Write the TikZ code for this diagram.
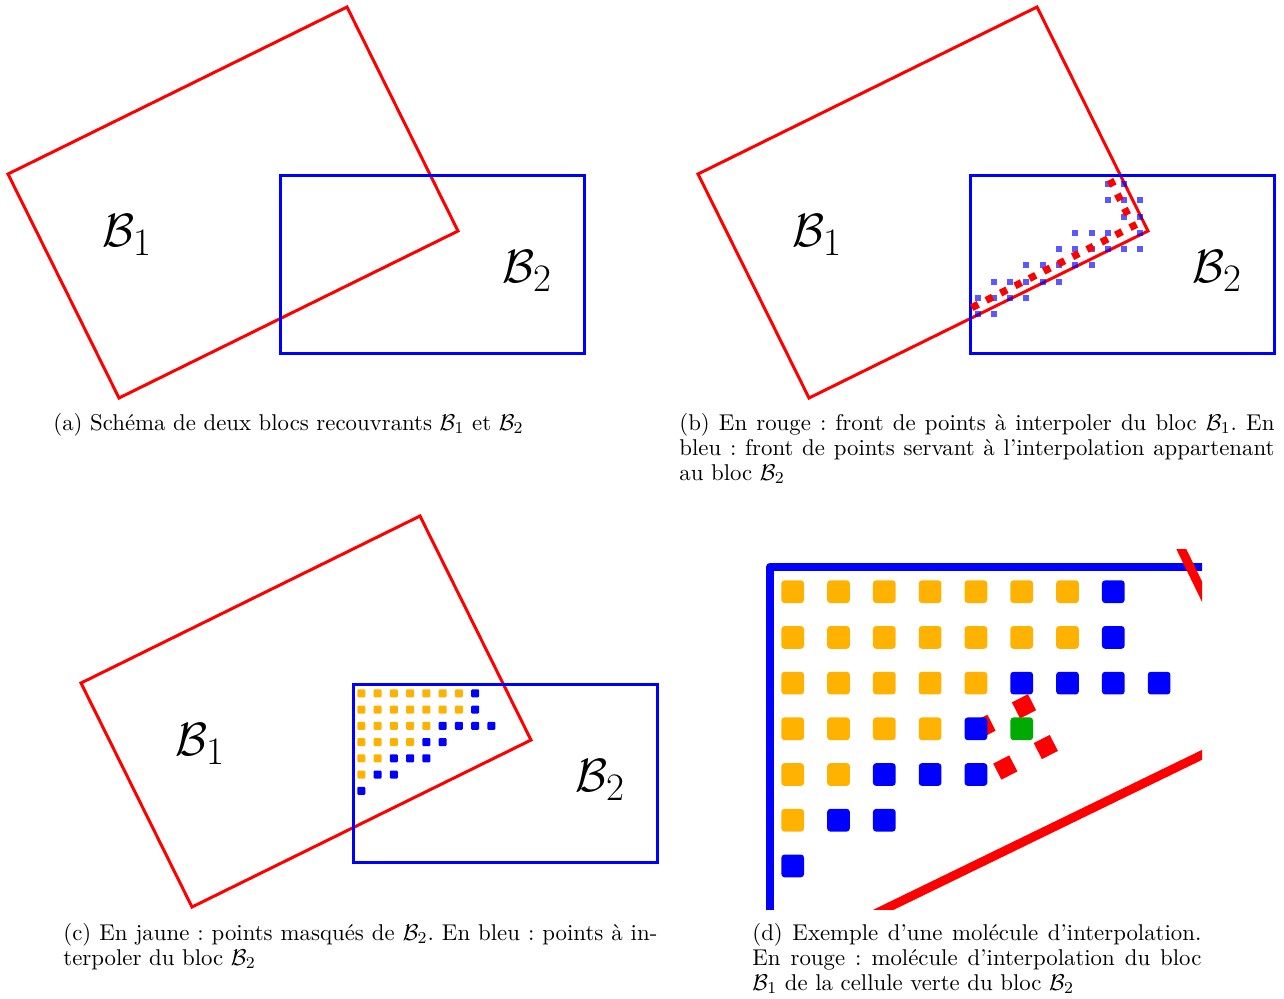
\documentclass[tikz,border=0pt]{standalone}
\usepackage{fontspec}
\frenchspacing
\definecolor{amber}{RGB}{255,179,0}
\definecolor{dgreen}{RGB}{0,170,0}
\definecolor{lblue}{RGB}{0,0,255}
\begin{document}
\begin{tikzpicture}[x=0.48pt,y=-0.48pt,
  redblk/.style={draw=red,line width=1.44pt},
  blueblk/.style={draw=blue,line width=1.44pt},
  lbl/.style={font=\Huge,scale=0.9,inner sep=0pt,anchor=base west},
  captxt/.style={font=\fontsize{10.95}{12}\selectfont,inner sep=0pt,anchor=base west},
  cdot/.style={rounded corners=0.5pt},
  ddot/.style={rounded corners=1.5pt}]
\useasboundingbox (0,0) rectangle (1284,998);

% ---------- panel (a)
\draw[redblk] (8,174) -- (347,7) -- (458,231) -- (119,398) -- cycle;
\draw[blueblk] (280,175) rectangle (584,353);
\node[lbl] (a1) at (102,246) {$\mathcal{B}_1$};
\node[lbl] (a2) at (502,282) {$\mathcal{B}_2$};

% ---------- panel (b)
\draw[redblk] (698,174) -- (1037,7) -- (1148,231) -- (809,398) -- cycle;
\draw[blueblk] (970,175) rectangle (1274,353);
\node[lbl] (b1) at (792,246) {$\mathcal{B}_1$};
\node[lbl] (b2) at (1192,282) {$\mathcal{B}_2$};
\foreach \r/\cols in {0/{8,9},1/{8,9,10},2/{9,10},3/{6,7,8,10},4/{5,6,7,8,9,10},5/{3,4,5,6,7},6/{1,2,3,4,5},7/{0,1,2,3},8/{0,1}}{
  \foreach \c in \cols {
    \fill[lblue,opacity=0.65] ({977.7+16.26*\c-3},{184+16.25*\r-3}) rectangle ++(6,6);
  }
}
\foreach \i in {0,...,11}{
  \fill[red,shift={({975+14.39*\i},{306-7.27*\i})},rotate=27] (-3.6,-3.6) rectangle (3.6,3.6);
}
\foreach \j in {1,2,3}{
  \fill[red,shift={({1133.3-7.2*\j},{226-14.4*\j})},rotate=27] (-3.6,-3.6) rectangle (3.6,3.6);
}

% ---------- panel (c)
\draw[redblk] (81,683) -- (420,516) -- (531,740) -- (192,907) -- cycle;
\draw[blueblk] (353,684) rectangle (657,862);
\node[lbl] (c1) at (175,755) {$\mathcal{B}_1$};
\node[lbl] (c2) at (575,791) {$\mathcal{B}_2$};
\foreach \r/\no/\bl in {0/6/{7},1/6/{7},2/4/{5,6,7,8},3/3/{4,5},4/1/{2,3,4},5/0/{1,2}}{
  \foreach \c in {0,...,\no}{
    \fill[amber,cdot] ({361.3+16.27*\c-4},{693.3+16.25*\r-4}) rectangle ++(8,8);
  }
  \foreach \c in \bl{
    \fill[blue,cdot] ({361.3+16.27*\c-4},{693.3+16.25*\r-4}) rectangle ++(8,8);
  }
}
\fill[blue,cdot] ({361.3-4},{693.3+16.25*6-4}) rectangle ++(8,8);

% ---------- panel (d)
\begin{scope}
\clip (762,549) rectangle (1202,909.5);
\draw[blue,line width=3.84pt,line join=round] (770,940) -- (770,566.7) -- (1240,566.7);
\draw[red,line width=4.3pt] (847,927.5) -- (1237.7,737.5);
\draw[red,line width=4.3pt] (1173,532) -- (1234.2,657.9);
\foreach \p in {(1024,706.3),(1045.8,747),(1005.3,767.5),(983.5,726.8)}{
  \fill[red,shift={\p},rotate=27] (-9,-9) rectangle (9,9);
}
\foreach \r/\no/\bl in {0/6/{7},1/6/{7},2/4/{5,6,7,8},3/3/{4},4/1/{2,3,4},5/0/{1,2}}{
  \foreach \c in {0,...,\no}{
    \fill[amber,ddot] ({792.7+45.8*\c-11.35},{591.7+45.7*\r-11.35}) rectangle ++(22.7,22.7);
  }
  \foreach \c in \bl{
    \fill[blue,ddot] ({792.7+45.8*\c-11.35},{591.7+45.7*\r-11.35}) rectangle ++(22.7,22.7);
  }
}
\fill[dgreen,ddot] ({792.7+45.8*5-11.35},{591.7+45.7*3-11.35}) rectangle ++(22.7,22.7);
\fill[blue,ddot] ({792.7-11.35},{591.7+45.7*6-11.35}) rectangle ++(22.7,22.7);
\end{scope}

% ---------- captions
\node[captxt] (capa) at (53,430) {(a) Schéma de deux blocs recouvrants $\mathcal{B}_1$ et $\mathcal{B}_2$};
\node[captxt] (capb1) at (679,430) {\makebox[285.6pt][s]{(b) En rouge : front de points à interpoler du bloc $\mathcal{B}_1$. En}};
\node[captxt] (capb2) at (679,455) {\makebox[285.6pt][s]{bleu : front de points servant à l’interpolation appartenant}};
\node[captxt] (capb3) at (679,480) {au bloc $\mathcal{B}_2$};
\node[captxt] (capc1) at (63,940) {\makebox[285.1pt][s]{(c) En jaune : points masqués de $\mathcal{B}_2$. En bleu : points à in-}};
\node[captxt] (capc2) at (63,965) {terpoler du bloc $\mathcal{B}_2$};
\node[captxt] (capd1) at (752,940) {\makebox[215.5pt][s]{(d) Exemple d’une molécule d’interpolation.}};
\node[captxt] (capd2) at (752,965) {\makebox[215.5pt][s]{En rouge : molécule d’interpolation du bloc}};
\node[captxt] (capd3) at (752,990) {$\mathcal{B}_1$ de la cellule verte du bloc $\mathcal{B}_2$};
\end{tikzpicture}
\end{document}
